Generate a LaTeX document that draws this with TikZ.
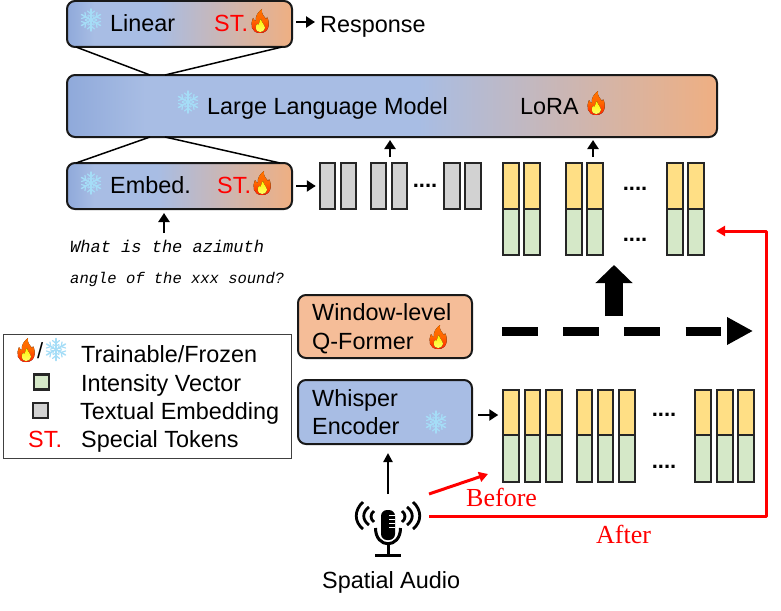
\documentclass[tikz,border=0pt]{standalone}
\usepackage{fontspec}
\setmainfont{Liberation Sans}
\newfontfamily\serifred{Liberation Serif}
\newfontfamily\handfont{Liberation Mono}
\usetikzlibrary{arrows.meta,shapes.misc,calc}
\definecolor{cblue}{HTML}{A8BDE4}
\definecolor{cblued}{HTML}{8FA9DA}
\definecolor{corange}{HTML}{F5BD98}
\definecolor{corg}{HTML}{EFAF82}
\definecolor{cgreen}{HTML}{D5E8C8}
\definecolor{cyellow}{HTML}{FFDF85}
\definecolor{cgray}{HTML}{D2D2D2}
\definecolor{cice}{HTML}{A5DDF7}
\definecolor{cred}{HTML}{FF0000}
\pgfdeclarehorizontalshading{blueorange}{100bp}{
  color(0bp)=(cblued); color(25bp)=(cblued); color(31bp)=(cblue); color(45bp)=(cblue);
  color(75bp)=(corg); color(100bp)=(corg)}
\pgfdeclarehorizontalshading{llmshade}{100bp}{
  color(0bp)=(cblued); color(25bp)=(cblued); color(31bp)=(cblue); color(52bp)=(cblue);
  color(75bp)=(corg); color(100bp)=(corg)}
\tikzset{
  x=1pt,y=-1pt,
  txt/.style={font=\fontsize{23.4}{23.4}\selectfont,inner sep=0pt,anchor=base west},
  stxt/.style={txt,text=cred},
  redserif/.style={font=\serifred\fontsize{26}{26}\selectfont,inner sep=0pt,anchor=base west,text=cred},
  hand/.style={font=\handfont\itshape\fontsize{#1}{#1}\selectfont,inner sep=0pt,anchor=base west},
  dotsty/.style={font=\bfseries\fontsize{22}{22}\selectfont,inner sep=0pt},
  roundbox/.style={draw=black!90,line width=2pt,rounded corners=8pt,inner sep=0pt,outer sep=0pt},
  vbar/.style={draw=black!85,line width=2.2pt,inner sep=0pt,outer sep=0pt,minimum width=15.5pt},
  link/.style={black,line width=1.5pt},
  arr/.style={black,line width=2.6pt,-{Triangle[length=9pt,width=11pt]}},
  redarr/.style={cred,line width=3pt,line join=round,-{Triangle[length=9pt,width=10pt]}},
  flame/.pic={
    \fill[top color=orange!90!red,bottom color=red!75!orange,middle color=orange!80!red]
      (0,12) .. controls (-9,12) and (-10,3) .. (-7,-3)
      .. controls (-6,-1) and (-5,0) .. (-4,0)
      .. controls (-5,-5) and (-2,-9) .. (2,-12)
      .. controls (1,-7) and (4,-5) .. (6,-2)
      .. controls (6.5,-2) and (7,-3) .. (7,-4)
      .. controls (10,1) and (10,12) .. (0,12) -- cycle;
    \fill[top color=yellow!90!orange,bottom color=yellow!60!white]
      (0,11) .. controls (-5,11) and (-5,5) .. (-3,3)
      .. controls (-2,4) and (-1.5,4) .. (-1,3)
      .. controls (-1,1) and (0,-1) .. (1,-2)
      .. controls (1,1) and (5,4) .. (5,7)
      .. controls (5,10) and (2,11) .. (0,11) -- cycle;
  },
  flake/.pic={
    \foreach \a in {0,60,...,300}{
      \begin{scope}[rotate=\a]
        \draw[cice,line width=1.5pt,line cap=round] (0,0) -- (0,-11);
        \draw[cice,line width=1.2pt,line cap=round] (-3.5,-9) -- (0,-6) -- (3.5,-9);
        \draw[cice,line width=1pt,line cap=round] (-2.5,-5) -- (0,-3) -- (2.5,-5);
      \end{scope}
    }
  }
}
\newcommand{\vbnode}[5]{\node[vbar,fill=#5,minimum height=#4pt-#3pt] (#1) at (#2,{(#3+#4)/2}) {};}
\begin{document}
\begin{tikzpicture}
\useasboundingbox (0,0) rectangle (781,610);
% main boxes
\node[roundbox,shading=blueorange,minimum width=225pt,minimum height=46pt] (linear) at (179.5,24) {};
\node[roundbox,shading=llmshade,minimum width=650pt,minimum height=62pt] (llm) at (392,106) {};
\node[roundbox,shading=blueorange,minimum width=225pt,minimum height=46pt] (embed) at (179.5,186) {};
\node[roundbox,fill=corange,minimum width=174pt,minimum height=63pt] (qformer) at (385,326.5) {};
\node[roundbox,fill=cblue,minimum width=174pt,minimum height=64pt] (whisper) at (385,412) {};
\node[draw=black!75,line width=1.2pt,fill=white,inner sep=0pt,minimum width=288pt,minimum height=124pt] (legend) at (147.5,396.5) {};
% box labels
\pic at (91,20) {flake};
\node[txt] (tlinear) at (110,32) {Linear};
\node[stxt] (tst1) at (214,32) {ST.};
\pic at (260,21) {flame};
\pic at (188,102) {flake};
\node[txt] (tllm) at (207,114) {Large Language Model};
\node[txt] (tlora) at (520,114) {LoRA};
\pic at (596,103) {flame};
\pic at (91,183) {flake};
\node[txt] (tembed) at (110,193) {Embed.};
\node[stxt] (tst2) at (217,193) {ST.};
\pic at (262,183) {flame};
\node[txt] (tresp) at (320,33) {Response};
\node[txt] (tq1) at (312,320) {Window-level};
\node[txt] (tq2) at (312,349) {Q-Former};
\pic at (438,337) {flame};
\node[txt] (tw1) at (312,406) {Whisper};
\node[txt] (tw2) at (312,434) {Encoder};
\pic at (436,422) {flake};
% question
\node[hand=17] (q1) at (70,252) {What is the azimuth};
\node[hand=15.5] (q2) at (70,283) {angle of the xxx sound?};
\coordinate (qtop) at (164,233);
% trapezoid links
\coordinate (la) at (76,47); \coordinate (lb) at (282,47);
\coordinate (ma) at (150,75); \coordinate (mb) at (165,75);
\coordinate (mc) at (150,137); \coordinate (md) at (165,137);
\coordinate (ea) at (76,163); \coordinate (eb) at (280,163);
\draw[link] (la) -- (ma) (lb) -- (mb) (mc) -- (ea) (md) -- (eb);
% grey bars
\foreach \n/\x in {g1/327.5,g2/348.5,g3/378.5,g4/399.5,g5/452,g6/473}{
  \vbnode{\n}{\x}{163}{209}{cgray}
}
\node[dotsty] (gdots) at (425,186) {....};
% upper audio bars
\foreach \n/\x in {a/511,b/532,c/574,d/595,e/675,f/696}{
  \vbnode{u\n y}{\x}{163}{209}{cyellow}
  \vbnode{u\n g}{\x}{209}{255}{cgreen}
}
\node[dotsty] (udots1) at (635,189) {....};
\node[dotsty] (udots2) at (635,240) {....};
% lower audio bars
\foreach \n/\x in {a/511,b/532.5,c/554,d/584.5,e/605.5,f/627,g/703,h/725,i/746}{
  \vbnode{w\n y}{\x}{390}{435}{cyellow}
  \vbnode{w\n g}{\x}{435}{482}{cgreen}
}
\node[dotsty] (wdots1) at (664,415) {....};
\node[dotsty] (wdots2) at (664,467) {....};
% small arrows
\draw[arr] ([xshift=4pt,yshift=2pt]linear.east) -- ([xshift=-5pt,yshift=2pt]tresp.west |- linear.east);
\draw[arr] ([xshift=4pt]embed.east) -- ([xshift=-4pt]g1.west);
\draw[arr] (qtop) -- ([yshift=-4pt,xshift=-15.5pt]embed.south);
\draw[arr] ($(g3.north)!.5!(g4.north)+(1,-6)$) -- ($(g3.north)!.5!(g4.north)+(1,-23)$);
\draw[arr] ($(ucy.north)!.5!(udy.north)+(8.5,-6)$) -- ($(ucy.north)!.5!(udy.north)+(8.5,-23)$);
\draw[arr] ([xshift=6pt,yshift=-3pt]whisper.east) -- ([xshift=-5pt,yshift=-2.5pt]way.west);
% big arrows
\coordinate (bigs) at (614,316); \coordinate (bige) at (614,265);
\draw[line width=18pt,black,-{Triangle[length=18pt,width=36pt]}] (bigs) -- (bige);
\coordinate (dashs) at (502,331); \coordinate (dashe) at (753,331);
\draw[line width=9pt,black,dash pattern=on 35.5pt off 25.7pt,-{Triangle[length=26pt,width=26pt]}] (dashs) -- (dashe);
% microphone
\fill[black,rounded corners=6pt] (381,510) rectangle (395,540);
\draw[black,line width=3pt] (375.5,528) .. controls (375.5,549) and (400.5,549) .. (400.5,528);
\draw[black,line width=3pt] (388,545) -- (388,554);
\draw[black,line width=3pt] (375,555) -- (401,555);
\draw[white,line width=1pt] (389,515) -- (395,515) (389,519) -- (395,519) (389,523) -- (395,523) (389,527) -- (395,527);
\foreach \s in {1,-1}{
  \draw[black,line width=2.8pt] ({388+\s*14},511) .. controls ({388+\s*18},514) and ({388+\s*18},519) .. ({388+\s*14},522);
  \draw[black,line width=2.8pt] ({388+\s*19},507) .. controls ({388+\s*26},512) and ({388+\s*26},520) .. ({388+\s*19},525);
  \draw[black,line width=2.8pt] ({388+\s*25},502) .. controls ({388+\s*34},510) and ({388+\s*34},522) .. ({388+\s*25},529);
}
\node[txt] (tspatial) at (322,588) {Spatial Audio};
\coordinate (mica) at (388,494); \coordinate (wtop) at (388,453);
\draw[black,line width=2.2pt,-{Triangle[length=9pt,width=9pt]}] (mica) -- (wtop);
% red connectors
\coordinate (ra) at (429,494); \coordinate (rb) at (488,474);
\draw[redarr] (ra) -- (rb);
\coordinate (rc) at (429,516); \coordinate (rd) at (766,516); \coordinate (re) at (766,231); \coordinate (rf) at (716,231);
\draw[redarr] (rc) -- (rd) -- (re) -- (rf);
\node[redserif] (tbefore) at (466,506) {Before};
\node[redserif] (tafter) at (596,543) {After};
% legend
\pic at (26,350) {flame};
\node[txt,font=\fontsize{22}{22}\selectfont] (lslash) at (37,358) {/};
\pic at (56,349.5) {flake};
\node[txt] (l1) at (81,362) {Trainable/Frozen};
\node[vbar,fill=cgreen,minimum width=15pt,minimum height=15pt,line width=2.2pt] (s1) at (41.5,382) {};
\node[txt] (l2) at (81,391) {Intensity Vector};
\node[vbar,fill=cgray,minimum width=15pt,minimum height=15pt,line width=2.2pt] (s2) at (40.5,410.5) {};
\node[txt] (l3) at (80,419) {Textual Embedding};
\node[stxt] (l4s) at (28,447) {ST.};
\node[txt] (l4) at (81,447) {Special Tokens};
\end{tikzpicture}
\end{document}
